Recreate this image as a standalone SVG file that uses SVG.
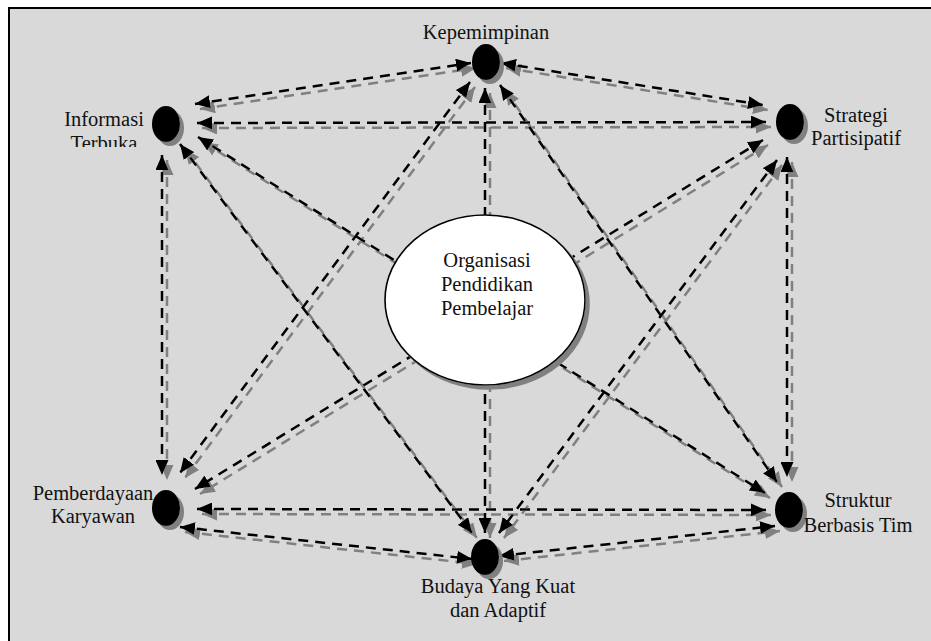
<svg xmlns="http://www.w3.org/2000/svg" width="931" height="641" viewBox="0 0 931 641">
  <style>
    .frame { fill: #d9d9d9; stroke: #000; stroke-width: 2; }
    .conn path { fill: none; stroke: #000; stroke-width: 2.5; stroke-dasharray: 10 7; marker-start: url(#arr); marker-end: url(#arr); }
    .conn path.one { marker-start: none; }
    .dot { fill: #000; }
    .hub { fill: #fff; stroke: #000; stroke-width: 1.6; }
    text { font-family: "Liberation Serif", "Times New Roman", serif; font-size: 20.5px; fill: #111; text-anchor: middle; }
  </style>
  <defs>
    <marker id="arr" markerUnits="userSpaceOnUse" markerWidth="16" markerHeight="13" refX="15" refY="6.5" orient="auto-start-reverse">
      <path d="M0,0 L15,6.5 L0,13 Z" fill="#000"/>
    </marker>
    <filter id="lineShadow" filterUnits="userSpaceOnUse" x="0" y="0" width="931" height="641">
      <feOffset in="SourceAlpha" dx="5" dy="5" result="off"/>
      <feFlood flood-color="#808080"/>
      <feComposite in2="off" operator="in" result="sh"/>
      <feMerge><feMergeNode in="sh"/><feMergeNode in="SourceGraphic"/></feMerge>
    </filter>
    <filter id="nodeShadow" filterUnits="userSpaceOnUse" x="0" y="0" width="931" height="641">
      <feOffset in="SourceAlpha" dx="4" dy="4" result="off"/>
      <feFlood flood-color="#808080"/>
      <feComposite in2="off" operator="in" result="sh"/>
      <feMerge><feMergeNode in="sh"/><feMergeNode in="SourceGraphic"/></feMerge>
    </filter>
    <clipPath id="cutText"><rect x="0" y="0" width="931" height="147"/></clipPath>
  </defs>

  <rect class="frame" x="9" y="8" width="940" height="650"/>

  <!-- every pair of the six outer nodes is linked -->
  <g id="connectors" class="conn" filter="url(#lineShadow)">
    <path d="M195,104 L471,63"/>
    <path d="M501,63 L763,105"/>
    <path d="M197,123 L766,122"/>
    <path d="M162,155 L162,475"/>
    <path d="M787,157 L787,477"/>
    <path d="M197,509 L766,510"/>
    <path d="M180,527 L472,559"/>
    <path d="M499,556 L775,526"/>
    <path d="M470,82 L180,473"/>
    <path d="M500,85 L777,482"/>
    <path d="M180,144 L472,533"/>
    <path d="M777,160 L499,533"/>
    <path d="M485,88 L485,533"/>
    <path d="M198,137 L765,493"/>
    <path d="M763,140 L195,489"/>
  </g>

  <g id="hub" filter="url(#nodeShadow)">
    <ellipse class="hub" cx="485" cy="300" rx="100" ry="85"/>
  </g>
  <g id="hub-label">
    <text x="487" y="267">Organisasi</text>
    <text x="487" y="291">Pendidikan</text>
    <text x="487" y="315">Pembelajar</text>
  </g>

  <g id="kepemimpinan">
    <ellipse class="dot" cx="486" cy="62" rx="14" ry="18" filter="url(#nodeShadow)"/>
    <text x="486" y="39">Kepemimpinan</text>
  </g>

  <g id="informasi-terbuka">
    <ellipse class="dot" cx="166" cy="124" rx="14" ry="18" filter="url(#nodeShadow)"/>
    <text x="104" y="126">Informasi</text>
    <text x="104" y="150" clip-path="url(#cutText)">Terbuka</text>
  </g>

  <g id="strategi-partisipatif">
    <ellipse class="dot" cx="790" cy="122" rx="14" ry="18" filter="url(#nodeShadow)"/>
    <text x="856" y="122">Strategi</text>
    <text x="856" y="145">Partisipatif</text>
  </g>

  <g id="pemberdayaan-karyawan">
    <ellipse class="dot" cx="166" cy="508" rx="14" ry="18" filter="url(#nodeShadow)"/>
    <text x="93" y="500">Pemberdayaan</text>
    <text x="93" y="523">Karyawan</text>
  </g>

  <g id="struktur-berbasis-tim">
    <ellipse class="dot" cx="789" cy="510" rx="14" ry="18" filter="url(#nodeShadow)"/>
    <text x="858" y="507">Struktur</text>
    <text x="858" y="532">Berbasis Tim</text>
  </g>

  <g id="budaya">
    <ellipse class="dot" cx="485" cy="557" rx="14" ry="18" filter="url(#nodeShadow)"/>
    <text x="498" y="593">Budaya Yang Kuat</text>
    <text x="498" y="617">dan Adaptif</text>
  </g>
</svg>
